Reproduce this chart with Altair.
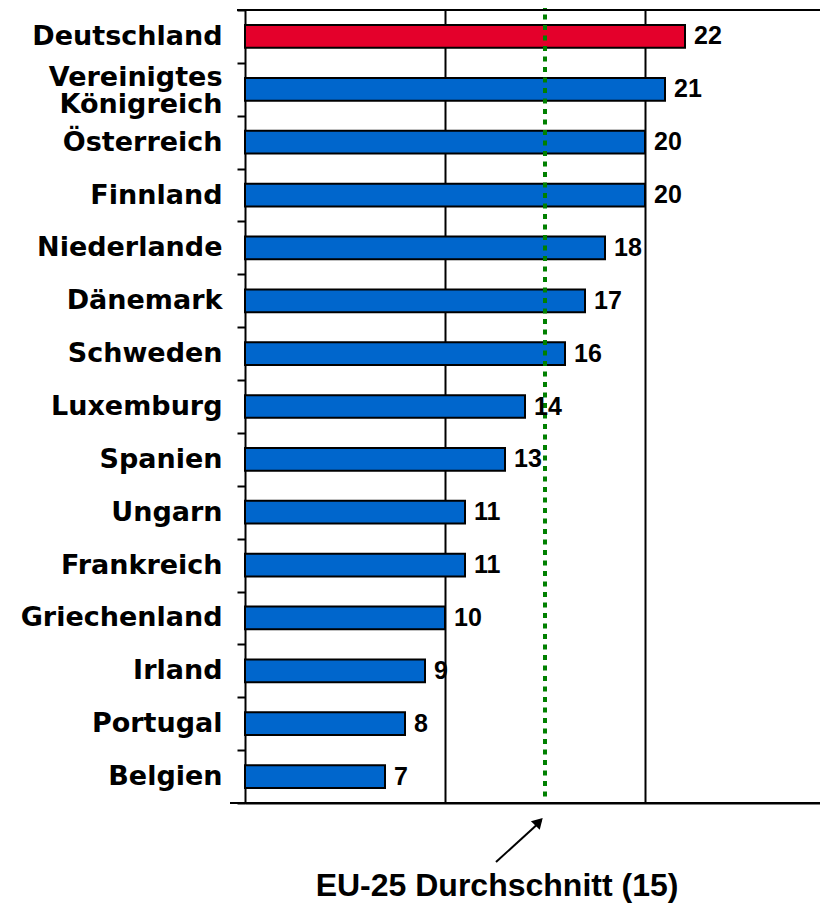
import altair as alt
import pandas as pd

# ---- data ----
countries = ["Deutschland", "Vereinigtes Königreich", "Österreich", "Finnland",
             "Niederlande", "Dänemark", "Schweden", "Luxemburg", "Spanien",
             "Ungarn", "Frankreich", "Griechenland", "Irland", "Portugal", "Belgien"]
values = [22, 21, 20, 20, 18, 17, 16, 14, 13, 11, 11, 10, 9, 8, 7]
highlight = ["Deutschland"]
eu_avg = [15]
grid_values = [10, 20]
annotation_text = ["EU-25 Durchschnitt (15)"]
arrow_from = [12.55]
arrow_to = [14.8]
text_pos = [12.6]

df = pd.DataFrame({"land": countries, "wert": values})
df["farbe"] = ["rot" if c in highlight else "blau" for c in countries]

W, H = 575, 793

xscale = alt.Scale(domain=[0, 28.75], nice=False, zero=True)
yscale = alt.Scale(domain=countries, paddingInner=0, paddingOuter=0)

x_axis = alt.Axis(values=grid_values, grid=True, gridColor="black", gridWidth=2,
                  labels=False, ticks=False, domainColor="black", domainWidth=2,
                  title=None)
x_enc = alt.X("wert:Q", scale=xscale, axis=x_axis)

two_line = "datum.value == 'Vereinigtes Königreich'"
y_axis = alt.Axis(title=None, tickBand="extent", tickSize=8, tickWidth=2,
                  tickColor="black", domainColor="black", domainWidth=2,
                  labelFont="DejaVu Sans", labelFontWeight="bold", labelFontSize=27,
                  labelColor="black", labelPadding=15, labelLimit=400,
                  labelLineHeight=27,
                  labelOffset={"condition": {"test": two_line, "value": -12}, "value": 0},
                  labelExpr=two_line + " ? ['Vereinigtes', 'Königreich'] : datum.label")
y_enc = alt.Y("land:N", scale=yscale, sort=countries, axis=y_axis)

bars = alt.Chart(df).mark_bar(height={"band": 0.43}, stroke="black", strokeWidth=2).encode(
    x=x_enc, y=y_enc,
    color=alt.Color("farbe:N", scale=alt.Scale(domain=["rot", "blau"],
                                               range=["#E4002B", "#0066CC"]), legend=None),
)

labels = alt.Chart(df).mark_text(align="left", baseline="middle", dx=9, dy=0,
                                 font="Liberation Sans", fontWeight="bold",
                                 fontSize=25, color="black").encode(
    x=x_enc, y=y_enc, text="wert:Q")

avg_df = pd.DataFrame({"wert": eu_avg})
avg_rule = alt.Chart(avg_df).mark_rule(color="#008000", strokeWidth=4,
                                       strokeDash=[5, 5.5]).encode(
    x=x_enc, y=alt.value(-6), y2=alt.value(H))

one = pd.DataFrame({"wert": [0]})
top_line = alt.Chart(one).mark_rule(color="black", strokeWidth=2).encode(
    x=alt.value(-8), x2=alt.value(W), y=alt.value(0))
bottom_line = alt.Chart(one).mark_rule(color="black", strokeWidth=2).encode(
    x=alt.value(-15), x2=alt.value(W), y=alt.value(H))

arrow_df = pd.DataFrame({"wert": arrow_from, "wert2": arrow_to})
arrow_line = alt.Chart(arrow_df).mark_rule(color="black", strokeWidth=2).encode(
    x=x_enc, x2="wert2:Q", y=alt.value(852), y2=alt.value(811))

head_df = pd.DataFrame({"wert": [14.64]})
arrow_head = alt.Chart(head_df).mark_point(shape="triangle", filled=True, color="black",
                                           opacity=1, size=150, angle=44).encode(
    x=x_enc, y=alt.value(813))

ann_df = pd.DataFrame({"wert": text_pos, "txt": annotation_text})
ann = alt.Chart(ann_df).mark_text(align="center", baseline="alphabetic",
                                  font="Liberation Sans", fontWeight="bold",
                                  fontSize=32, color="black").encode(
    x=x_enc, y=alt.value(886), text="txt:N")

chart = alt.layer(bars, avg_rule, top_line, bottom_line, labels,
                  arrow_line, arrow_head, ann).properties(
    width=W, height=H,
    autosize=alt.AutoSizeParams(type="none"),
    padding={"left": 237, "top": 2, "right": 0, "bottom": 102},
    background="white",
).configure_view(stroke=None)

chart.save("out.html", embed_options={"renderer": "svg", "actions": False})
